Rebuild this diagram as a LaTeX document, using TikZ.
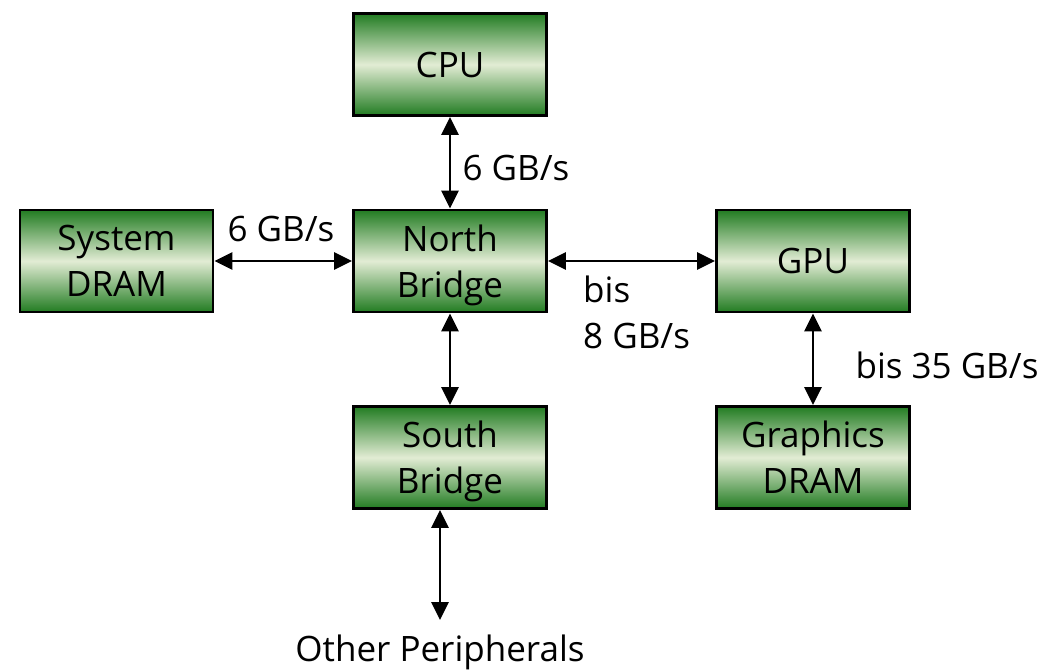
\documentclass[tikz,border=0pt]{standalone}
\usepackage{fontspec}
\setmainfont{Open Sans}
\usetikzlibrary{arrows.meta}
\definecolor{boxdark}{RGB}{34,124,34}
\definecolor{boxlight}{RGB}{226,236,212}
\tikzset{
  unit/.style={draw=black, line width=2.8pt, minimum width=193pt, minimum height=102pt,
    inner sep=0pt, align=center, text depth=0pt, font=\fontsize{35}{46}\selectfont,
    top color=boxdark, bottom color=boxdark, middle color=boxlight, shading angle=0},
  link/.style={line width=2.8pt, {Triangle[length=18pt,width=17pt]}-{Triangle[length=18pt,width=17pt]}},
  rate/.style={font=\fontsize{35}{46}\selectfont, inner sep=0pt}
}
\begin{document}
\begin{tikzpicture}[x=1pt,y=-1pt]
\useasboundingbox (0,0) rectangle (1045,672);
% components
\node[unit] (cpu)  at (450,64.5)  {CPU};
\node[unit] (sdram) at (116.5,261) {System\\DRAM};
\node[unit] (nb)   at (450,261)   {North\\Bridge};
\node[unit] (gpu)  at (813,261)   {GPU};
\node[unit] (sb)   at (450,457.5) {South\\Bridge};
\node[unit] (gdram) at (813,457.5) {Graphics\\DRAM};
\coordinate (per) at (440,620);
\node[rate] (perlbl) at (440,652) {Other Peripherals};
% buses
\draw[link] (cpu.south) -- (nb.north);
\draw[link] (sdram.east) -- (nb.west);
\draw[link] (nb.east) -- (gpu.west);
\draw[link] (nb.south) -- (sb.north);
\draw[link] (gpu.south) -- (gdram.north);
\draw[link] (sb.south -| per) -- (per);
% bandwidth labels
\node[rate] (l1) at (516,168) {6 GB/s};
\node[rate] (l2) at (281,229) {6 GB/s};
\node[rate, anchor=west, align=left] (l3) at (583,312) {bis\\8 GB/s};
\node[rate] (l4) at (947,365) {bis 35 GB/s};
\end{tikzpicture}
\end{document}
